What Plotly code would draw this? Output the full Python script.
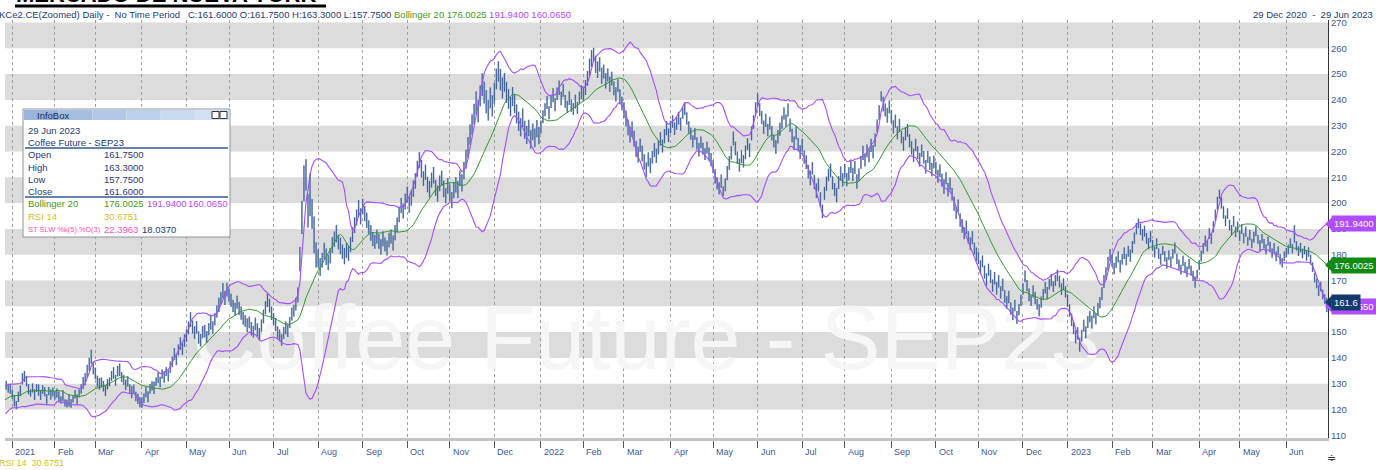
import numpy as np
import pandas as pd
import plotly.graph_objects as go

# ---------------- data (daily closes and bar excursions) ----------------
warmup_close = [119.2, 118.4, 120.1, 121.5, 122.8, 121.9, 123.4, 122.6, 121.1, 122.9,
                124.3, 125.6, 124.8, 123.5, 125.9, 126.4, 127.8, 126.9, 125.4, 127.2]

close_2020 = [129.5, 127.8, 128.6]
close_2021 = [
    # Jan
    126.5, 123.2, 121.5, 124.0, 127.8, 131.5, 133.6, 130.2, 128.0, 126.7, 127.9, 126.1, 128.4, 127.2, 125.9, 127.5, 126.3, 124.8, 126.9, 125.6, 127.1,
    # Feb
    125.4, 126.8, 124.9, 123.6, 125.1, 122.8, 122.0, 123.5, 122.4, 124.2, 125.6, 124.0, 126.3, 127.5, 129.8, 131.6, 134.2, 137.5, 139.8, 136.4,
    # Mar
    133.8, 131.2, 129.5, 130.8, 128.9, 127.6, 129.3, 131.0, 132.8, 133.5, 131.7, 134.6, 135.2, 133.0, 131.4, 129.8, 130.5, 128.2, 126.9, 127.8, 125.4, 124.0, 123.1,
    # Apr
    122.5, 124.6, 126.3, 125.1, 127.8, 129.4, 128.2, 130.6, 132.1, 131.0, 133.5, 132.4, 134.8, 133.2, 135.9, 138.4, 141.2, 139.6, 142.8, 145.3, 143.7, 146.2,
    # May
    148.5, 151.2, 154.6, 152.3, 149.8, 151.5, 148.2, 146.9, 149.6, 150.8, 148.1, 150.9, 153.4, 152.0, 154.8, 157.6, 160.3, 163.1, 165.8, 163.4, 166.2,
    # Jun
    164.5, 162.1, 160.4, 158.8, 161.2, 159.5, 157.3, 155.8, 154.2, 152.6, 153.9, 151.4, 150.2, 152.8, 151.0, 149.6, 152.3, 155.8, 158.9, 162.4, 160.1, 157.6,
    # Jul
    155.2, 152.8, 150.1, 148.6, 147.2, 149.5, 151.8, 150.4, 153.6, 156.9, 158.2, 160.5, 163.8, 176.8, 192.5, 206.6, 212.4, 198.7, 204.3, 196.5, 188.4, 180.2,
    # Aug
    178.4, 175.6, 177.9, 181.2, 179.5, 176.8, 179.9, 183.5, 186.2, 188.4, 185.1, 183.6, 181.2, 179.4, 182.0, 180.5, 183.7, 187.9, 191.2, 194.6, 197.8, 195.3,
    # Sep
    198.6, 196.2, 193.4, 190.8, 188.5, 186.2, 184.9, 187.3, 185.1, 183.4, 186.0, 184.2, 182.8, 185.5, 187.1, 184.6, 188.3, 191.5, 195.2, 198.9, 197.1, 200.4,
    # Oct
    203.2, 199.6, 201.8, 205.4, 208.7, 212.9, 216.8, 213.4, 209.6, 211.8, 207.5, 205.3, 208.9, 210.6, 206.2, 203.8, 207.4, 209.9, 205.6, 202.9, 206.5,
    # Nov
    204.1, 201.5, 204.8, 207.2, 205.3, 209.6, 207.8, 212.4, 216.9, 221.5, 226.8, 230.2, 234.6, 238.9, 236.2, 241.5, 245.8, 243.2, 239.6, 236.4, 240.8, 238.1,
    # Dec
    242.6, 247.9, 251.4, 248.2, 244.6, 246.9, 243.1, 240.5, 237.8, 241.2, 238.6, 234.9, 231.7, 229.4, 232.8, 228.5, 226.3, 229.1, 224.8, 227.5, 225.2, 228.8, 226.4,
]
close_2022 = [
    # Jan
    229.6, 233.2, 236.5, 238.9, 235.4, 239.2, 241.6, 238.3, 242.1, 244.5, 240.8, 243.6, 239.7, 237.2, 240.5, 238.1, 236.4, 239.3, 237.0, 240.6, 242.8,
    # Feb
    241.9, 244.6, 247.8, 252.3, 256.1, 258.4, 254.2, 251.6, 253.8, 249.5, 251.2, 247.6, 249.8, 246.1, 248.3, 244.9, 242.2, 245.6, 241.3, 238.7,
    # Mar
    236.2, 232.5, 229.8, 226.4, 228.9, 224.6, 221.3, 218.7, 222.5, 219.4, 215.8, 213.2, 216.9, 214.5, 217.8, 220.6, 218.2, 221.9, 224.7, 222.3, 226.1, 228.8, 226.5,
    # Apr
    229.4, 231.8, 228.6, 230.9, 233.2, 230.5, 234.8, 236.9, 232.7, 229.5, 226.8, 224.1, 226.5, 223.2, 220.8, 223.6, 221.4, 218.9, 221.7, 219.2, 216.8,
    # May
    214.2, 210.5, 207.8, 205.6, 208.3, 204.2, 206.9, 211.5, 215.8, 219.4, 224.6, 221.3, 217.8, 214.6, 218.2, 216.1, 219.5, 222.8, 220.4, 226.7, 231.5, 236.2,
    # Jun
    239.8, 236.4, 233.1, 229.6, 231.8, 228.5, 230.9, 227.2, 224.1, 221.8, 225.4, 228.7, 231.2, 234.6, 232.1, 235.8, 230.4, 226.2, 223.5, 227.1, 222.8, 219.6,
    # Jul
    222.4, 218.1, 215.6, 212.3, 209.8, 213.5, 208.2, 204.6, 206.9, 201.3, 196.2, 203.8, 207.5, 210.9, 212.6, 208.1, 205.2, 203.0, 207.9, 211.4, 209.2,
    # Aug
    212.7, 208.9, 211.6, 214.2, 210.8, 213.9, 208.5, 211.2, 215.7, 219.4, 216.8, 220.1, 218.3, 222.6, 219.8, 224.5, 229.6, 234.8, 242.1, 238.5, 236.2, 234.1, 237.3,
    # Sep
    233.5, 229.8, 231.6, 227.4, 229.9, 225.8, 223.2, 226.7, 228.4, 224.1, 221.6, 218.3, 222.7, 219.5, 216.8, 220.4, 217.6, 214.3, 218.1, 215.5, 212.8, 216.2,
    # Oct
    213.6, 210.2, 212.8, 208.9, 206.4, 209.7, 205.2, 207.8, 203.5, 199.8, 196.4, 198.9, 193.7, 191.2, 188.5, 190.8, 186.9, 184.2, 186.8, 182.6, 180.4,
    # Nov
    178.9, 175.3, 177.6, 173.4, 170.8, 174.2, 171.5, 168.3, 170.9, 167.2, 169.6, 165.8, 168.4, 164.1, 161.5, 163.8, 159.6, 157.2, 160.4, 155.8, 158.9, 162.3,
    # Dec
    166.8, 171.5, 168.2, 164.6, 162.3, 165.9, 163.1, 160.8, 158.5, 161.7, 164.9, 167.3, 165.1, 168.6, 170.2, 167.8, 169.9, 172.1, 169.4, 166.8, 168.5, 165.9,
]
close_2023 = [
    # Jan
    162.4, 158.3, 155.1, 151.6, 147.8, 149.6, 145.2, 148.7, 152.3, 150.1, 153.8, 156.2, 154.0, 157.5, 155.3, 158.9, 161.4, 164.8, 169.2, 172.6, 176.4, 179.8,
    # Feb
    177.5, 174.8, 176.9, 179.2, 175.6, 178.3, 180.6, 177.9, 181.4, 179.7, 182.8, 186.5, 189.9, 192.4, 190.1, 187.6, 189.3, 186.2, 184.5, 186.9,
    # Mar
    183.6, 181.2, 184.1, 180.5, 178.3, 181.7, 179.4, 176.8, 179.9, 177.2, 180.3, 182.5, 178.6, 176.1, 174.4, 177.5, 175.2, 173.6, 176.3, 174.0, 171.8, 169.5, 172.3,
    # Apr
    175.8, 179.4, 182.6, 185.1, 183.4, 187.9, 186.2, 190.5, 195.3, 199.8, 203.6, 200.1, 196.4, 193.2, 195.8, 191.6, 189.4, 192.7, 188.9, 190.6,
    # May
    187.3, 189.8, 186.5, 188.9, 185.2, 187.6, 184.3, 186.8, 189.1, 185.9, 183.6, 186.2, 184.5, 182.1, 185.3, 183.0, 180.6, 182.9, 179.4, 181.5, 178.2, 176.9, 179.6,
    # Jun
    180.8, 181.9, 184.6, 182.3, 186.8, 183.5, 181.2, 182.9, 180.4, 181.8, 179.6, 180.9, 178.2, 175.1, 171.4, 168.9, 166.2, 167.8, 164.5, 163.1, 161.6,
]

# distance from close up to the high, and down to the low
up_2020 = [1.6, 2.2, 1.4]
up_2021 = [
    1.2, 2.4, 1.8, 2.9, 1.5, 2.6, 1.3, 2.8, 1.9, 1.1, 2.2, 1.7, 1.4, 2.5, 1.6, 1.9, 2.3, 1.2, 1.8, 2.1, 1.4,
    1.7, 1.3, 2.1, 1.5, 2.4, 1.2, 1.8, 2.2, 1.6, 1.4, 2.0, 1.9, 1.5, 2.3, 2.8, 2.5, 3.1, 2.6, 3.4, 2.2,
    2.4, 1.9, 2.7, 1.6, 2.2, 1.8, 2.5, 1.4, 2.1, 2.9, 1.7, 2.3, 2.6, 1.5, 2.0, 1.8, 2.4, 1.6, 2.2, 1.9, 1.5, 2.1, 1.7,
    2.2, 1.6, 2.4, 1.9, 2.1, 1.5, 2.6, 1.8, 2.3, 1.7, 2.0, 2.5, 1.6, 2.2, 2.8, 2.1, 2.6, 1.9, 2.4, 2.7, 2.0, 2.9,
    2.6, 2.9, 3.1, 2.2, 2.5, 2.8, 2.1, 2.4, 2.7, 2.0, 2.3, 2.6, 2.9, 2.2, 2.5, 2.8, 3.0, 2.4, 3.2, 2.6, 2.9,
    2.4, 2.8, 2.1, 2.5, 2.9, 2.2, 2.6, 2.0, 2.3, 2.7, 2.1, 2.5, 2.2, 2.8, 2.4, 2.0, 2.6, 2.9, 3.1, 2.5, 2.8, 2.3,
    2.2, 2.6, 2.1, 2.4, 2.0, 2.5, 2.3, 2.7, 2.2, 2.6, 2.4, 2.8, 3.5, 6.2, 8.4, 8.0, 4.6, 4.8, 7.2, 5.1, 6.4, 4.6,
    3.6, 3.1, 2.8, 3.4, 2.9, 3.2, 2.7, 3.3, 2.8, 3.1, 2.6, 3.0, 2.7, 3.2, 2.5, 2.9, 3.1, 2.8, 3.3, 2.9, 3.4, 2.7,
    3.1, 2.7, 2.9, 2.5, 3.0, 2.6, 2.8, 2.4, 2.9, 2.6, 3.1, 2.5, 2.7, 3.0, 2.6, 2.8, 3.2, 2.9, 3.4, 3.1, 2.8, 3.3,
    3.2, 2.8, 3.1, 3.4, 2.9, 3.5, 3.0, 3.3, 2.8, 3.1, 2.7, 3.2, 2.9, 3.4, 2.8, 3.0, 3.3, 2.7, 3.1, 2.9, 3.2,
    3.1, 2.8, 3.3, 2.9, 3.2, 3.0, 3.4, 3.6, 3.8, 4.1, 3.7, 4.2, 3.9, 4.4, 3.8, 4.1, 4.5, 3.9, 4.2, 3.6, 4.0, 3.7,
    3.9, 4.2, 3.6, 3.8, 4.1, 3.5, 3.9, 3.7, 3.4, 3.8, 3.6, 3.3, 3.7, 3.5, 3.9, 3.4, 3.6, 3.2, 3.5, 3.3, 3.7, 3.4, 3.1,
]
up_2022 = [
    2.4, 2.8, 2.2, 2.6, 2.1, 2.5, 2.9, 2.3, 2.7, 3.0, 2.4, 2.6, 2.2, 2.5, 2.8, 2.1, 2.4, 2.7, 2.3, 2.6, 2.9,
    2.8, 3.1, 3.4, 3.7, 3.2, 1.8, 2.9, 3.3, 2.7, 3.0, 2.5, 2.8, 2.4, 2.9, 2.6, 2.3, 2.7, 2.4, 2.8, 2.5,
    2.9, 3.3, 2.6, 3.1, 2.7, 3.4, 2.8, 3.2, 2.5, 2.9, 3.1, 2.6, 2.8, 3.0, 2.4, 2.7, 2.9, 2.5, 2.8, 2.3, 2.6, 2.9, 2.4,
    2.5, 2.2, 2.7, 2.4, 2.1, 2.6, 2.3, 2.0, 2.5, 2.2, 2.4, 2.1, 2.6, 2.3, 2.5, 2.2, 2.0, 2.4, 2.1, 2.3, 2.6,
    2.4, 2.7, 2.2, 2.5, 2.8, 2.3, 2.6, 2.9, 2.4, 2.7, 3.1, 2.5, 2.2, 2.6, 2.3, 2.5, 2.8, 2.4, 2.7, 3.0, 2.6, 2.9,
    2.7, 2.3, 2.6, 2.4, 2.8, 2.2, 2.5, 2.7, 2.3, 2.6, 2.9, 2.4, 2.7, 2.5, 2.2, 2.8, 2.4, 2.6, 2.3, 2.7, 2.5, 2.8,
    2.6, 2.3, 2.9, 2.5, 2.8, 2.4, 2.7, 3.0, 2.6, 2.9, 3.2, 2.5, 2.8, 2.4, 2.7, 2.3, 2.6, 2.9, 2.5, 2.8, 2.4,
    2.5, 2.8, 2.3, 2.6, 2.9, 2.4, 2.7, 2.2, 2.5, 2.8, 2.4, 2.6, 2.9, 2.3, 2.7, 2.5, 2.8, 3.1, 1.2, 2.7, 2.4, 2.8, 2.5,
    2.6, 2.3, 2.7, 2.4, 2.8, 2.2, 2.5, 2.7, 2.3, 2.6, 2.4, 2.8, 2.2, 2.5, 2.7, 2.3, 2.6, 2.4, 2.1, 2.5, 2.8, 2.2,
    2.4, 2.7, 2.2, 2.5, 2.8, 2.3, 2.6, 2.1, 2.4, 2.7, 2.2, 2.5, 2.3, 2.6, 2.1, 2.4, 2.2, 2.5, 2.3, 2.0, 2.4,
    2.2, 2.5, 2.1, 2.4, 2.0, 2.3, 2.6, 2.1, 2.4, 2.2, 2.5, 2.0, 2.3, 2.1, 2.4, 2.2, 1.9, 2.3, 2.1, 2.4, 2.0, 2.2,
    2.1, 2.4, 2.0, 2.3, 1.9, 2.2, 2.5, 2.0, 2.3, 2.1, 1.8, 2.2, 2.4, 2.0, 2.3, 1.9, 2.2, 2.1, 2.4, 2.0, 2.3, 1.9,
]
up_2023 = [
    2.2, 2.5, 2.1, 2.4, 2.8, 2.3, 2.6, 2.2, 2.5, 2.1, 2.4, 2.0, 2.3, 2.5, 2.1, 2.4, 2.2, 2.6, 2.9, 2.5, 2.8, 2.4,
    2.3, 2.0, 2.4, 2.1, 2.3, 1.9, 2.2, 2.4, 2.0, 2.3, 2.5, 2.1, 2.4, 1.6, 2.0, 2.3, 1.9, 2.2, 2.0, 2.3,
    2.1, 1.8, 2.2, 1.9, 2.1, 1.7, 2.0, 2.2, 1.8, 2.1, 1.9, 2.2, 1.8, 2.0, 1.7, 2.1, 1.9, 1.8, 2.0, 1.7, 1.9, 2.1, 1.8,
    2.0, 2.2, 1.9, 2.3, 2.1, 2.4, 2.0, 2.5, 2.2, 2.6, 1.6, 2.1, 2.4, 2.0, 2.2, 1.9, 2.1, 2.3, 2.0, 2.2,
    1.9, 2.1, 1.8, 2.0, 1.7, 2.0, 1.8, 2.1, 1.9, 1.7, 2.0, 1.8, 1.6, 1.9, 1.7, 2.0, 1.8, 1.6, 1.9, 1.7, 2.0, 1.8, 1.6,
    1.8, 2.0, 1.7, 1.9, 4.6, 1.8, 2.0, 1.7, 1.9, 1.6, 1.8, 2.0, 1.7, 1.9, 1.6, 1.8, 2.0, 1.7, 1.9, 1.6, 1.7,
]
dn_2020 = [1.8, 1.3, 2.5]
dn_2021 = [
    2.3, 1.9, 1.4, 1.1, 2.6, 1.8, 2.9, 1.2, 2.1, 1.7, 1.3, 2.4, 1.6, 1.9, 2.2, 1.5, 1.2, 2.6, 1.4, 1.8, 2.0,
    1.5, 2.2, 1.8, 1.3, 1.9, 1.6, 1.2, 2.4, 1.7, 1.5, 1.3, 2.0, 1.6, 1.4, 1.9, 2.2, 1.8, 2.5, 2.1, 2.8,
    2.1, 2.6, 1.8, 2.3, 1.9, 2.4, 1.5, 2.0, 1.7, 1.6, 2.5, 1.8, 2.2, 2.4, 1.9, 2.3, 1.6, 2.1, 2.5, 1.8, 2.2, 1.9, 2.3,
    1.8, 2.1, 1.6, 2.3, 1.7, 2.0, 2.2, 1.5, 1.9, 2.4, 1.6, 2.1, 1.8, 2.3, 1.7, 2.0, 1.9, 2.4, 1.8, 2.2, 2.5, 1.9,
    2.3, 2.0, 2.6, 2.9, 2.4, 2.1, 2.7, 2.5, 2.0, 2.8, 2.3, 2.1, 2.4, 2.7, 2.2, 2.0, 2.5, 2.3, 2.6, 2.9, 2.4,
    2.7, 2.3, 2.6, 2.4, 2.1, 2.8, 2.5, 2.9, 2.2, 2.6, 2.4, 2.7, 2.3, 2.1, 2.6, 2.8, 2.2, 2.4, 2.0, 2.7, 2.5, 2.9,
    2.6, 2.4, 2.8, 2.2, 2.5, 2.1, 2.6, 2.3, 2.0, 2.4, 2.2, 2.1, 2.3, 3.2, 4.5, 5.8, 7.6, 8.2, 9.4, 6.5, 7.8, 5.2,
    3.2, 3.8, 2.9, 3.1, 3.5, 2.8, 3.3, 2.9, 3.2, 3.6, 3.0, 3.4, 2.8, 3.1, 3.3, 2.9, 2.7, 3.0, 2.8, 3.2, 2.9, 3.5,
    2.8, 3.2, 3.0, 2.7, 3.1, 2.9, 2.6, 3.0, 2.8, 3.3, 2.7, 2.9, 3.1, 2.6, 2.8, 3.0, 2.7, 2.9, 2.6, 2.8, 3.1, 2.9,
    2.9, 3.4, 2.8, 3.0, 3.2, 2.7, 3.1, 3.5, 3.0, 2.8, 3.3, 3.1, 2.9, 3.0, 3.4, 3.2, 2.8, 3.1, 3.3, 3.0, 2.9,
    3.2, 3.5, 2.9, 3.1, 3.4, 3.0, 3.3, 3.2, 3.5, 3.9, 4.2, 3.8, 4.1, 4.5, 4.9, 4.0, 4.3, 4.6, 4.8, 4.4, 4.1, 4.5,
    4.1, 3.8, 4.3, 4.5, 4.0, 3.7, 4.2, 3.9, 4.1, 3.6, 3.8, 4.0, 3.7, 3.5, 3.3, 3.6, 3.4, 3.2, 3.7, 3.1, 3.5, 3.3, 3.6,
]
dn_2022 = [
    2.6, 2.2, 2.8, 2.4, 2.9, 2.3, 2.5, 2.7, 2.2, 2.6, 2.9, 2.4, 2.8, 2.3, 2.5, 2.7, 2.2, 2.6, 2.4, 2.1, 2.5,
    2.4, 2.7, 2.3, 2.9, 3.2, 3.5, 3.8, 3.1, 2.8, 3.3, 2.9, 3.2, 2.6, 3.0, 2.7, 3.1, 2.8, 2.5, 3.0, 2.7,
    3.2, 2.8, 3.5, 2.9, 3.3, 2.7, 3.4, 3.0, 2.6, 3.2, 2.8, 3.1, 2.7, 2.9, 2.5, 2.8, 2.6, 3.0, 2.4, 2.7, 2.9, 2.5, 2.8,
    2.3, 2.6, 2.2, 2.5, 2.8, 2.4, 2.1, 2.7, 2.3, 2.6, 2.2, 2.5, 2.0, 2.4, 2.7, 2.3, 2.6, 2.2, 2.5, 2.8, 2.4,
    2.6, 2.9, 2.5, 2.2, 2.4, 1.4, 2.3, 2.6, 2.9, 2.5, 2.2, 2.8, 2.6, 2.4, 2.7, 2.3, 2.5, 2.2, 2.6, 2.4, 2.7, 2.3,
    2.4, 2.7, 2.5, 2.8, 2.3, 2.6, 2.4, 2.9, 2.5, 2.7, 2.3, 2.6, 2.4, 2.2, 2.5, 2.3, 2.8, 2.6, 2.9, 2.4, 2.7, 2.5,
    2.5, 2.8, 2.4, 2.7, 2.9, 2.5, 2.8, 2.6, 2.3, 2.9, 2.0, 2.5, 2.7, 2.4, 2.6, 2.8, 2.5, 2.7, 2.4, 2.6, 2.8,
    2.7, 2.4, 2.8, 2.5, 2.3, 2.6, 2.9, 2.5, 2.4, 2.7, 2.6, 2.3, 2.5, 2.8, 2.4, 2.6, 2.3, 2.5, 2.7, 3.0, 2.6, 2.9, 2.5,
    2.5, 2.8, 2.4, 2.7, 2.3, 2.6, 2.9, 2.4, 2.7, 2.5, 2.8, 2.3, 2.6, 2.4, 2.7, 2.5, 2.3, 2.8, 2.5, 2.6, 2.4, 2.7,
    2.6, 2.3, 2.7, 2.5, 2.8, 2.4, 2.6, 2.9, 2.5, 2.8, 2.6, 2.4, 2.9, 2.7, 2.5, 2.8, 2.6, 2.4, 2.7, 2.5, 2.8,
    2.5, 2.7, 2.4, 2.6, 2.8, 2.3, 2.5, 2.7, 2.4, 2.6, 2.3, 2.8, 2.5, 2.7, 2.4, 2.6, 2.8, 2.5, 2.3, 2.6, 2.4, 2.2,
    2.3, 2.1, 2.4, 2.6, 2.2, 2.5, 2.3, 2.1, 2.4, 2.2, 2.0, 2.3, 2.5, 2.1, 2.4, 2.2, 2.0, 2.3, 2.1, 2.4, 2.2, 2.5,
]
dn_2023 = [
    2.6, 2.3, 2.7, 2.4, 2.2, 2.5, 2.8, 2.4, 2.1, 2.5, 2.2, 2.4, 2.6, 2.1, 2.3, 2.5, 2.2, 2.4, 2.1, 2.3, 2.5, 2.2,
    2.1, 2.4, 2.0, 2.2, 2.5, 2.1, 2.3, 2.0, 2.2, 2.4, 2.1, 2.3, 2.0, 2.2, 2.5, 2.1, 2.3, 2.0, 2.4, 2.1,
    2.0, 2.3, 1.9, 2.1, 2.2, 1.8, 2.0, 2.2, 1.9, 2.1, 1.8, 2.0, 2.2, 1.9, 2.1, 1.8, 2.0, 2.2, 1.9, 2.1, 2.0, 2.3, 1.9,
    1.8, 2.0, 2.2, 1.9, 2.1, 1.8, 2.0, 1.9, 2.1, 2.3, 2.0, 2.2, 2.4, 2.1, 1.9, 2.2, 2.0, 1.8, 2.1, 1.9,
    2.0, 1.8, 2.1, 1.9, 1.7, 2.0, 1.8, 2.1, 1.9, 1.7, 2.0, 1.8, 2.1, 1.9, 1.7, 2.0, 1.8, 2.1, 1.9, 1.7, 2.0, 1.8, 2.1,
    1.9, 1.7, 2.0, 1.8, 2.1, 1.9, 1.7, 2.0, 1.8, 1.6, 1.9, 1.7, 2.0, 1.8, 2.1, 1.9, 2.2, 2.0, 1.8, 2.1, 3.85,
]

# last-bar values shown in the header / info box / price tags
last_open, last_high, last_low, last_close = 161.75, 163.30, 157.75, 161.60
boll_mid, boll_up, boll_lo = 176.0025, 191.9400, 160.0650
rsi14 = 30.6751
st_k, st_d = 22.3963, 18.0370

y_ticks = list(range(110, 271, 10))
band_starts = list(range(120, 270, 20))

# ---------------- derived series ----------------
close = close_2020 + close_2021 + close_2022 + close_2023
up = up_2020 + up_2021 + up_2022 + up_2023
dn = dn_2020 + dn_2021 + dn_2022 + dn_2023
n = len(close)
assert len(up) == n and len(dn) == n, (n, len(up), len(dn))
high = [c + u for c, u in zip(close, up)]
low = [c - d for c, d in zip(close, dn)]

all_close = warmup_close + close
nw = len(warmup_close)
dates = pd.bdate_range("2020-12-01", periods=len(all_close))
xs_all = np.arange(len(all_close)) - nw
s = pd.Series(all_close)
mid = s.rolling(20).mean()
sd = s.rolling(20).std(ddof=0)
upper = mid + 2 * sd
lower = mid - 2 * sd

disp_dates = dates[nw:]
month_idx, month_lbl = [], []
for i in range(1, n):
    if disp_dates[i].month != disp_dates[i - 1].month:
        month_idx.append(i)
        d = disp_dates[i]
        month_lbl.append(str(d.year) if d.month == 1 else d.strftime("%b"))

# ---------------- geometry helpers ----------------
W, H = 1376, 470
ML, MR, MT, MB = 5, 48, 20, 32
PW, PH = W - ML - MR, H - MT - MB


def px(x):
    return (x - ML) / PW


def py(y):
    return (H - MB - y) / PH


FONT = "Liberation Sans"
NAVY = "#1f3a73"
GREEN = "#3f9a1c"
PURPLE = "#b04dff"
YELLOW = "#cfbf1a"
PINK = "#ff4fb3"

fig = go.Figure()

# watermark (under the bars)
fig.add_trace(go.Scatter(x=[316], y=[144.5], mode="text", text=["Coffee Future - SEP23"],
                         textfont=dict(size=90, color="#f6f6f6", family=FONT),
                         hoverinfo="skip", cliponaxis=True))

# bars (high-low)
seg_x, seg_y = [], []
for i in range(n):
    seg_x += [i, i, None]
    seg_y += [low[i], high[i], None]
fig.add_trace(go.Scatter(x=seg_x, y=seg_y, mode="lines",
                         line=dict(color="rgba(125,155,198,0.7)", width=1.8), hoverinfo="skip"))
fig.add_trace(go.Scatter(x=seg_x, y=seg_y, mode="lines",
                         line=dict(color="#2a4b85", width=0.8), hoverinfo="skip"))

# Bollinger bands
mask = xs_all >= -1
fig.add_trace(go.Scatter(x=xs_all[mask], y=upper[mask], mode="lines",
                         line=dict(color="#a64dff", width=1.1), hoverinfo="skip"))
fig.add_trace(go.Scatter(x=xs_all[mask], y=lower[mask], mode="lines",
                         line=dict(color="#a64dff", width=1.1), hoverinfo="skip"))
fig.add_trace(go.Scatter(x=xs_all[mask], y=mid[mask], mode="lines",
                         line=dict(color="#2f9a2f", width=1.0), hoverinfo="skip"))

shapes = []
for b in band_starts:
    shapes.append(dict(type="rect", xref="paper", yref="y", x0=0, x1=1, y0=b, y1=b + 10,
                       fillcolor="#dcdcdc", line_width=0, layer="below"))

annotations = []


def ann(x, y, text, color=NAVY, size=9, xanchor="left", yanchor="middle", family=FONT, **kw):
    d = dict(x=x, y=y, xref="paper", yref="paper", text=text, showarrow=False,
             xanchor=xanchor, yanchor=yanchor, font=dict(family=family, size=size, color=color))
    d.update(kw)
    annotations.append(d)


# big (cut-off) title
ann(px(14), py(4), "<b>MERCADO DE NUEVA YORK</b>", color="black", size=22, yanchor="bottom", yshift=-5)
shapes.append(dict(type="line", xref="paper", yref="paper", x0=px(15), x1=px(326), y0=py(6), y1=py(6),
                   line=dict(color="black", width=3)))

# header line
nb = "\u00a0"
hdr = (f"KCe2.CE(Zoomed) Daily -{nb}{nb}No Time Period{nb}{nb}{nb}C:{last_close:.4f} O:{last_open:.4f} "
       f"H:{last_high:.4f} L:{last_low:.4f} "
       f"<span style='color:{GREEN}'>Bollinger 20 {boll_mid:.4f}</span> "
       f"<span style='color:{PURPLE}'>{boll_up:.4f} {boll_lo:.4f}</span>")
ann(px(-3), py(14), hdr, color=NAVY, size=9.5)
ann(px(1375), py(14), f"29 Dec 2020{nb}{nb}-{nb}{nb}29 Jun 2023", color=NAVY, size=9.5, xanchor="right")

# bottom texts
ann(px(-3), py(463), f"RSI 14{nb}{nb}{rsi14:.4f}", color=YELLOW, size=9)
ann(px(1331), py(458), "≑", color="#333333", size=11, xanchor="center")

# month labels
for mi, ml in zip(month_idx, month_lbl):
    annotations.append(dict(x=mi, y=py(452), xref="x", yref="paper", text=ml, showarrow=False,
                            xanchor="left", yanchor="middle", xshift=1,
                            font=dict(family=FONT, size=9, color="#3a5a9a")))

# info box
shapes.append(dict(type="rect", xref="paper", yref="paper", x0=px(23), x1=px(230), y0=py(237), y1=py(109),
                   fillcolor="white", line=dict(color="#8e959e", width=1)))
title_cols = ["#9ab5da", "#a6bfe0", "#b2c8e6", "#bed1eb", "#c9d9f0", "#d3e1f3"]
seg_w = (229 - 24) / len(title_cols)
for k, col in enumerate(title_cols):
    shapes.append(dict(type="rect", xref="paper", yref="paper", x0=px(24 + k * seg_w), x1=px(24 + (k + 1) * seg_w),
                       y0=py(120), y1=py(110), fillcolor=col, line_width=0))
for x0 in (212, 220):
    shapes.append(dict(type="rect", xref="paper", yref="paper", x0=px(x0), x1=px(x0 + 7), y0=py(118.5), y1=py(111.5),
                       fillcolor="white", line=dict(color="#333333", width=1)))
for yy in (148, 197):
    shapes.append(dict(type="line", xref="paper", yref="paper", x0=px(25), x1=px(228), y0=py(yy), y1=py(yy),
                       line=dict(color="#6383ad", width=2)))
IB = dict(size=9.5)
ann(px(35), py(115.5), "InfoBox", color="#1a2a55", **IB)
ann(px(26), py(130), "29 Jun 2023", **IB)
ann(px(26), py(142), "Coffee Future - SEP23", **IB)
for yy, lab, val in [(155, "Open", last_open), (167, "High", last_high), (179, "Low", last_low), (191, "Close", last_close)]:
    ann(px(26), py(yy), lab, **IB)
    ann(px(102), py(yy), f"{val:.4f}", **IB)
ann(px(26), py(204), "Bollinger 20", color=GREEN, **IB)
ann(px(102), py(204), f"{boll_mid:.4f}", color=GREEN, **IB)
ann(px(145), py(204), f"{boll_up:.4f}", color=PURPLE, **IB)
ann(px(186), py(204), f"{boll_lo:.4f}", color=PURPLE, **IB)
ann(px(26), py(217), "RSI 14", color=YELLOW, **IB)
ann(px(102), py(217), f"{rsi14:.4f}", color=YELLOW, **IB)
ann(px(26), py(229), "ST SLW %k(5),%D(3)", color=PINK, size=7.5)
ann(px(102), py(229), f"{st_k:.4f}", color=PINK, **IB)
ann(px(140), py(229), f"{st_d:.4f}", color=NAVY, **IB)

# right-hand price tags
tags = [(boll_lo, f"{boll_lo:.4f}", "#b04dff"), (boll_up, f"{boll_up:.4f}", "#b04dff"),
        (boll_mid, f"{boll_mid:.4f}", "#138a13"), (last_close, "161.6", "#143a6b")]
for v, t, c in tags:
    shapes.append(dict(type="path", xref="paper", yref="y",
                       path=f"M {px(1325)},{v} L {px(1332)},{v + 2.6} L {px(1332)},{v - 2.6} Z",
                       fillcolor=c, line_width=0))
    annotations.append(dict(x=px(1331), y=v, xref="paper", yref="y", text=t, showarrow=False,
                            xanchor="left", yanchor="middle", bgcolor=c, borderpad=2,
                            font=dict(family=FONT, size=9.5, color="white")))

fig.update_layout(
    width=W, height=H, margin=dict(l=ML, r=MR, t=MT, b=MB, autoexpand=False),
    paper_bgcolor="white", plot_bgcolor="white", showlegend=False,
    shapes=shapes, annotations=annotations,
)
fig.update_xaxes(range=[-0.6, n - 0.4], tickvals=month_idx, showticklabels=False,
                 ticks="outside", ticklen=7, tickcolor="#555555",
                 showgrid=True, gridcolor="#a0a0a0", griddash="dot", gridwidth=1,
                 showline=True, linecolor="#c4c4c4", linewidth=3, zeroline=False, automargin=False)
fig.update_yaxes(range=[108.95, 270.97], side="right", tickvals=y_ticks, showgrid=False,
                 showline=True, linecolor="#333333", linewidth=1, ticks="", zeroline=False,
                 tickfont=dict(family=FONT, size=9.5, color="#3a5894"), automargin=False)

fig.write_html("out.html", config={"displayModeBar": False},
               post_script="document.body.style.margin='0px';document.body.style.overflow='hidden';")
